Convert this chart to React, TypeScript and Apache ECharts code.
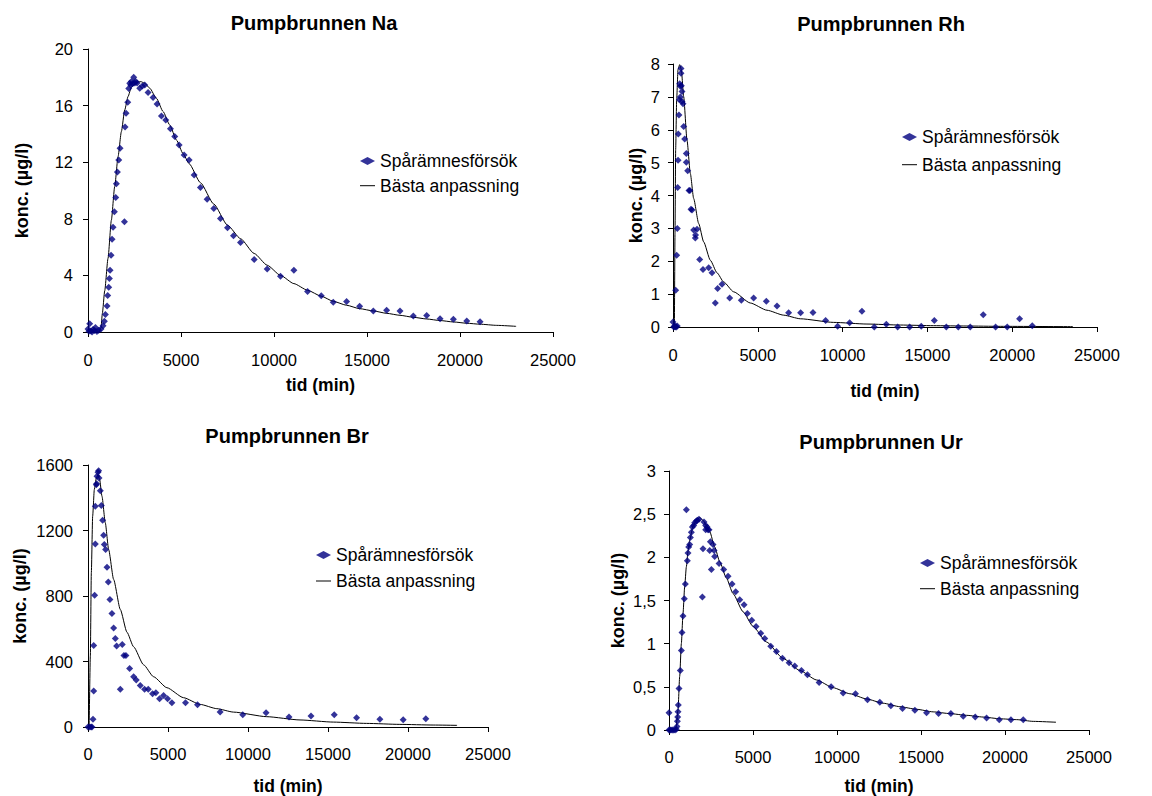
import React, { useEffect, useRef } from 'react';
import * as echarts from 'echarts';

type Pt = [number, number];

// ---------- DATA ----------
const xTicks = { min: 0, max: 25000, interval: 5000 };

const naObserved: Pt[] = [
  [0, 0.21], [50, 0.05], [90, 0.59], [160, 0.07], [220, 0.0], [270, 0.17], [350, 0.1], [400, 0.31], [480, 0.03],
  [575, 0.12], [700, 0.21], [810, 0.45], [880, 0.76], [935, 1.23], [1024, 1.84], [1060, 2.58], [1114, 3.17],
  [1150, 3.78], [1186, 4.37], [1240, 5.43], [1293, 6.56], [1347, 7.41], [1419, 8.5], [1491, 9.51], [1527, 10.48],
  [1581, 11.31], [1653, 12.16], [1724, 12.98], [1958, 7.79], [1993, 14.49], [2047, 15.46], [2137, 16.24],
  [2190, 17.2], [2245, 17.58], [2300, 17.45], [2332, 17.7], [2400, 17.55], [2458, 18.0], [2520, 17.6], [2565, 17.7],
  [2640, 17.6], [2781, 17.23], [2924, 17.39], [3050, 17.46], [3229, 16.92], [3498, 16.57], [3713, 16.12],
  [3947, 15.27], [4180, 14.99], [4431, 14.37], [4664, 13.81], [4898, 13.22], [5167, 12.51], [5436, 12.15],
  [5705, 11.09], [6046, 10.22], [6405, 9.39], [6763, 8.73], [7122, 8.02], [7499, 7.36], [7822, 6.8], [8199, 6.32],
  [8934, 5.12], [9634, 4.46], [10351, 3.94], [11069, 4.37], [11805, 2.86], [12540, 2.57], [13186, 2.1],
  [13903, 2.15], [14603, 1.82], [15339, 1.49], [16056, 1.53], [16774, 1.49], [17491, 1.13], [18209, 1.16],
  [18927, 0.94], [19644, 0.9], [20362, 0.78], [21080, 0.73],
];
const naFitted: Pt[] = [
  [0, 0], [600, 0], [700, 0.3], [771, 1.3], [897, 2.9], [1076, 5.2], [1256, 7.9], [1435, 10.27], [1615, 12.39],
  [1794, 14.16], [1973, 15.69], [2153, 16.64], [2332, 17.3], [2601, 17.63], [2834, 17.7], [3050, 17.58],
  [3319, 17.23], [3678, 16.52], [4037, 15.58], [4395, 14.63], [4754, 13.57], [5113, 12.6], [5436, 11.9],
  [6046, 10.55], [6763, 9.04], [7499, 7.55], [8199, 6.6], [8934, 5.55], [9634, 4.72], [10351, 4.0], [11069, 3.42],
  [11805, 2.95], [12540, 2.53], [13186, 2.17], [13903, 1.89], [14603, 1.65], [15339, 1.49], [16056, 1.32],
  [16774, 1.18], [17491, 1.04], [18209, 0.92], [18927, 0.81], [19644, 0.71], [20362, 0.62], [21080, 0.55],
  [21977, 0.47], [23017, 0.4],
];
const naYTicks = { min: 0, max: 20, interval: 4 };

const rhObserved: Pt[] = [
  [0, 0.15], [40, 0], [80, 0.02], [120, 0], [160, 0.02], [200, 0], [250, 0.03], [157, 1.12], [216, 2.18],
  [255, 3.0], [275, 4.24], [300, 5.07], [314, 5.87], [350, 6.45], [373, 6.91], [393, 7.4], [432, 7.0], [432, 7.32],
  [472, 7.72], [472, 7.86], [491, 7.34], [530, 7.16], [530, 6.86], [590, 6.79], [629, 6.1], [688, 5.72],
  [786, 5.28], [786, 5.01], [865, 4.75], [943, 4.15], [1000, 4.15], [1061, 3.58], [1120, 3.56], [1218, 2.95],
  [1317, 2.71], [1330, 2.8], [1415, 2.97], [1572, 2.05], [1769, 1.75], [2103, 1.8], [2299, 1.65], [2496, 0.73],
  [2633, 1.17], [2889, 1.3], [3341, 0.88], [4028, 0.81], [4755, 0.88], [5502, 0.78], [6131, 0.64], [6819, 0.43],
  [7526, 0.43], [8253, 0.44], [9000, 0.2], [9707, 0.02], [10415, 0.13], [11141, 0.48], [11868, 0], [12576, 0.08],
  [13244, 0], [13952, 0], [14639, 0.02], [15406, 0.2], [16114, 0], [16821, 0], [17528, 0], [18294, 0.37],
  [19021, 0], [19709, 0], [20436, 0.25], [21183, 0.04],
];
const rhFitted: Pt[] = [
  [0, 0], [79, 0], [118, 2.85], [157, 5.39], [216, 6.91], [295, 7.83], [393, 7.98], [491, 7.83], [629, 7.01],
  [825, 5.69], [1022, 4.67], [1218, 3.91], [1513, 3.15], [1808, 2.59], [2201, 2.03], [2594, 1.65], [2987, 1.37],
  [3576, 1.07], [4559, 0.73], [5541, 0.51], [6524, 0.36], [7506, 0.25], [9471, 0.14], [11436, 0.09],
  [13401, 0.06], [15366, 0.04], [17331, 0.03], [19296, 0.02], [23580, 0.01],
];
const rhYTicks = { min: 0, max: 8, interval: 1 };

const brObserved: Pt[] = [
  [0, 0], [104, 0], [190, 0], [250, 0], [312, 47], [354, 220], [354, 498], [416, 805], [458, 1118], [458, 1348],
  [520, 1480], [540, 1485], [562, 1531], [624, 1555], [666, 1565], [686, 1521], [770, 1443], [832, 1352],
  [915, 1262], [978, 1171], [1019, 1114], [1102, 1084], [1186, 976], [1269, 886], [1373, 779], [1498, 693],
  [1602, 604], [1706, 541], [1789, 494], [2018, 230], [2142, 504], [2246, 437], [2371, 437], [2600, 358],
  [2850, 307], [3016, 287], [3266, 254], [3536, 230], [3765, 230], [4035, 203], [4243, 209], [4472, 173],
  [4722, 193], [4971, 173], [5242, 148], [6094, 148], [6843, 136], [8258, 91], [9672, 75], [11128, 87],
  [12563, 61], [13936, 67], [15392, 75], [16786, 57], [18242, 47], [19698, 45], [21112, 51],
];
const brFitted: Pt[] = [
  [0, 0], [62, 0], [146, 433], [208, 941], [291, 1287], [395, 1450], [520, 1521], [624, 1541], [728, 1511],
  [874, 1409], [1082, 1246], [1290, 1084], [1602, 901], [2018, 718], [2434, 579], [2850, 490], [3474, 380],
  [4098, 307], [4930, 240], [5970, 179], [7010, 138], [8050, 112], [9090, 91], [11170, 63], [13250, 43],
  [15330, 30], [17410, 22], [19490, 16], [21570, 12], [23067, 10],
];
const brYTicks = { min: 0, max: 1600, interval: 400 };

const urObserved: Pt[] = [
  [0, 0.2], [0, 0], [60, 0], [120, 0], [200, 0], [280, 0], [360, 0], [437, 0.01], [477, 0.04], [497, 0.1],
  [516, 0.15], [536, 0.21], [556, 0.29], [596, 0.48], [675, 0.69], [735, 0.92], [774, 1.13], [834, 1.32],
  [913, 1.52], [973, 1.69], [1033, 2.55], [1092, 1.96], [1132, 2.05], [1172, 2.12], [1231, 2.15], [1271, 2.23],
  [1330, 2.29], [1390, 2.35], [1469, 2.37], [1529, 2.4], [1628, 2.42], [1688, 2.43], [1787, 2.44], [1986, 1.54],
  [2025, 2.1], [2085, 2.41], [2184, 2.37], [2264, 2.35], [2184, 2.32], [2323, 2.32], [2383, 2.32], [2423, 2.08],
  [2462, 2.18], [2522, 1.86], [2621, 2.15], [2681, 2.08], [2721, 2.01], [2979, 1.93], [3257, 1.86], [3515, 1.78],
  [3753, 1.69], [3971, 1.6], [4210, 1.51], [4468, 1.45], [4666, 1.35], [4925, 1.27], [5183, 1.2], [5461, 1.12],
  [5699, 1.06], [6057, 0.97], [6394, 0.91], [6752, 0.83], [7149, 0.78], [7486, 0.74], [7883, 0.69], [8241, 0.64],
  [8936, 0.55], [9650, 0.5], [10365, 0.43], [11100, 0.42], [11815, 0.35], [12550, 0.32], [13205, 0.28],
  [13900, 0.25], [14635, 0.23], [15330, 0.2], [16044, 0.19], [16779, 0.19], [17514, 0.16], [18229, 0.15],
  [18904, 0.14], [19658, 0.12], [20353, 0.12], [21088, 0.12],
];
const urFitted: Pt[] = [
  [0, 0], [397, 0], [536, 0.23], [636, 0.62], [735, 1.0], [834, 1.35], [933, 1.66], [1033, 1.89], [1132, 2.07],
  [1231, 2.2], [1430, 2.36], [1628, 2.43], [1827, 2.46], [2025, 2.43], [2224, 2.37], [2423, 2.3], [2721, 2.12],
  [3018, 1.95], [3416, 1.76], [3813, 1.58], [4408, 1.37], [5004, 1.2], [5798, 1.02], [6791, 0.83], [7784, 0.69],
  [8777, 0.58], [9770, 0.49], [10763, 0.42], [11755, 0.36], [12748, 0.31], [13741, 0.27], [14734, 0.24],
  [15727, 0.21], [16720, 0.19], [17712, 0.17], [18705, 0.15], [19698, 0.13], [20691, 0.12], [21684, 0.1],
  [23035, 0.09],
];
const urYTicks = { min: 0, max: 3, interval: 0.5 };

const titles = ['Pumpbrunnen Na', 'Pumpbrunnen Rh', 'Pumpbrunnen Br', 'Pumpbrunnen Ur'];
const seriesNames = ['Spårämnesförsök', 'Bästa anpassning'];
const xName = 'tid (min)';
const yName = 'konc. (µg/l)';

// ---------- LAYOUT / STYLE ----------
const FONT = '"Liberation Sans", Arial, Helvetica, sans-serif';
const MARKER = '#000080';
const AXIS = '#000000';

const panels = [
  {
    obs: naObserved, fit: naFitted, y: naYTicks, comma: false,
    grid: { left: 88, top: 49, width: 465, height: 283 },
    title: [314, 23], legend: { left: 360, top: 151, gap: 4.7 },
    yNameGap: 57, xNameGap: 44, xLabelMargin: 19, yLabelMargin: 15,
  },
  {
    obs: rhObserved, fit: rhFitted, y: rhYTicks, comma: false,
    grid: { left: 673, top: 64, width: 424, height: 263 },
    title: [881, 24], legend: { left: 902, top: 127, gap: 7.7 },
    yNameGap: 28, xNameGap: 55, xLabelMargin: 19, yLabelMargin: 13,
  },
  {
    obs: brObserved, fit: brFitted, y: brYTicks, comma: false,
    grid: { left: 88, top: 465, width: 400, height: 263 },
    title: [287, 436], legend: { left: 316, top: 545, gap: 6 },
    yNameGap: 59, xNameGap: 50, xLabelMargin: 18, yLabelMargin: 15,
  },
  {
    obs: urObserved, fit: urFitted, y: urYTicks, comma: true,
    grid: { left: 669, top: 471, width: 420, height: 259 },
    title: [881, 442], legend: { left: 920, top: 553, gap: 5.7 },
    yNameGap: 42, xNameGap: 47, xLabelMargin: 18, yLabelMargin: 13,
  },
];

export default function App() {
  const ref = useRef<HTMLDivElement>(null);

  useEffect(() => {
    if (!ref.current) return;
    const chart = echarts.init(ref.current, undefined, { renderer: 'svg' });

    const axisLineStyle = { show: true, lineStyle: { color: AXIS, width: 1 } };
    const tickStyle = { show: true, inside: false, length: 5, lineStyle: { color: AXIS, width: 1 } };
    const nameStyle = { fontFamily: FONT, fontWeight: 'bold' as const, color: '#000' };

    const option: any = {
      animation: false,
      backgroundColor: '#ffffff',
      grid: panels.map((p) => ({ ...p.grid, containLabel: false })),
      xAxis: panels.map((p, i) => ({
        type: 'value',
        gridIndex: i,
        min: xTicks.min,
        max: xTicks.max,
        interval: xTicks.interval,
        name: xName,
        nameLocation: 'middle',
        nameGap: p.xNameGap,
        nameTextStyle: { ...nameStyle, fontSize: 17.5 },
        axisLine: { ...axisLineStyle, onZero: false },
        axisTick: tickStyle,
        axisLabel: {
          margin: p.xLabelMargin,
          fontFamily: FONT,
          fontSize: 16.5,
          color: '#000',
          formatter: (v: number) => String(v),
        },
        splitLine: { show: false },
      })),
      yAxis: panels.map((p, i) => ({
        type: 'value',
        gridIndex: i,
        min: p.y.min,
        max: p.y.max,
        interval: p.y.interval,
        name: yName,
        nameLocation: 'middle',
        nameRotate: 90,
        nameGap: p.yNameGap,
        nameTextStyle: { ...nameStyle, fontSize: 18 },
        axisLine: { ...axisLineStyle, onZero: false },
        axisTick: tickStyle,
        axisLabel: {
          margin: p.yLabelMargin,
          fontFamily: FONT,
          fontSize: 16.5,
          color: '#000',
          formatter: (v: number) => (p.comma ? String(v).replace('.', ',') : String(v)),
        },
        splitLine: { show: false },
      })),
      legend: panels.map((p) => ({
        left: p.legend.left,
        top: p.legend.top,
        orient: 'vertical',
        padding: 0,
        itemWidth: 15,
        itemHeight: 8,
        itemGap: p.legend.gap,
        symbolKeepAspect: true,
        selectedMode: false,
        textStyle: { fontFamily: FONT, fontSize: 17.5, color: '#000', lineHeight: 20 },
        data: [
          { name: seriesNames[0], icon: 'diamond', itemStyle: { color: MARKER, borderWidth: 0 } },
          {
            name: seriesNames[1],
            icon: 'path://M0,0H15V1H0Z',
            itemStyle: { color: '#000', borderWidth: 0 },
          },
        ],
      })),
      graphic: panels.map((p, i) => ({
        type: 'text',
        x: p.title[0],
        y: p.title[1],
        silent: true,
        style: {
          text: titles[i],
          fill: '#000',
          fontFamily: FONT,
          fontSize: 20,
          fontWeight: 'bold',
          align: 'center',
          verticalAlign: 'middle',
          textAlign: 'center',
          textVerticalAlign: 'middle',
        },
      })),
      series: panels.flatMap((p, i) => [
        {
          name: seriesNames[1],
          type: 'line',
          xAxisIndex: i,
          yAxisIndex: i,
          data: p.fit,
          symbol: 'none',
          showSymbol: false,
          smooth: 0.2,
          smoothMonotone: 'x',
          lineStyle: { color: '#000', width: 1 },
          itemStyle: { color: '#000' },
          z: 2,
        },
        {
          name: seriesNames[0],
          type: 'scatter',
          xAxisIndex: i,
          yAxisIndex: i,
          data: p.obs,
          symbol: 'diamond',
          symbolSize: 7,
          itemStyle: { color: MARKER },
          z: 3,
        },
      ]),
    };

    chart.setOption(option);
    return () => {
      chart.dispose();
    };
  }, []);

  return (
    <div
      ref={ref}
      style={{ position: 'fixed', left: 0, top: 0, width: 1152, height: 796, background: '#fff' }}
    />
  );
}
